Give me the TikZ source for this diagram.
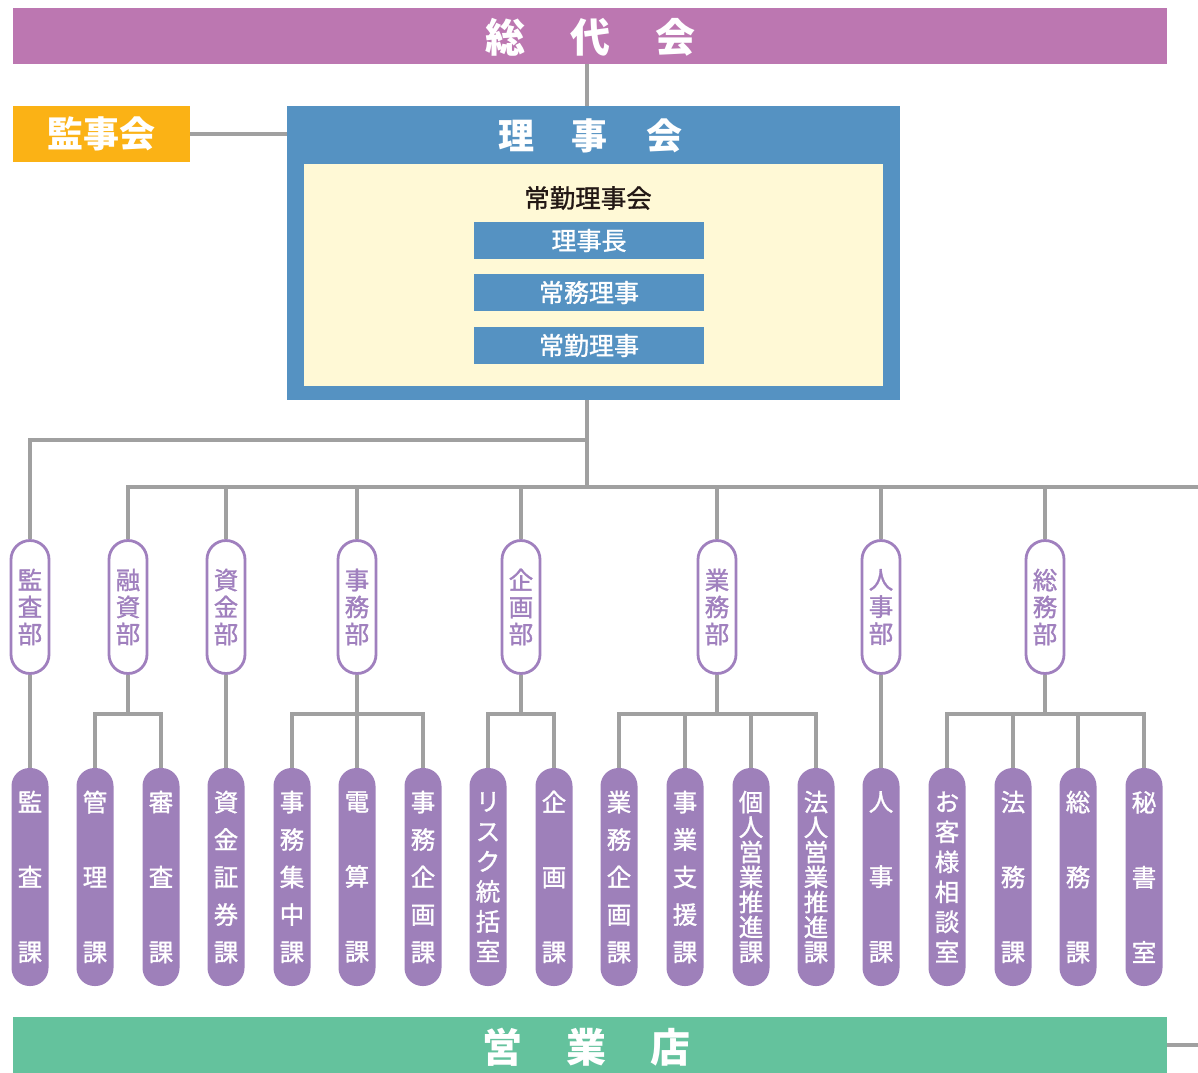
\documentclass[tikz,border=0pt]{standalone}
\usepackage{fontspec}
\setmainfont{Noto Sans CJK JP}
\newfontfamily\jpmed[FakeBold=1.2]{Noto Sans CJK JP}
\definecolor{sodaic}{HTML}{BC77B1}
\definecolor{kanjic}{HTML}{FBB215}
\definecolor{rijic}{HTML}{5592C2}
\definecolor{creamc}{HTML}{FFF9D6}
\definecolor{deptc}{HTML}{A080BE}
\definecolor{sectc}{HTML}{9E80BA}
\definecolor{lineg}{HTML}{A0A0A0}
\definecolor{shopc}{HTML}{64C29D}
\definecolor{darkc}{HTML}{231815}
\begin{document}
\begin{tikzpicture}[x=1pt,y=-1pt,
  conn/.style={draw=lineg, line width=3.5pt},
  bigbar/.style={fill=#1, draw=none, text=white, inner sep=0pt, font=\bfseries},
  bluebox/.style={fill=rijic, draw=none, text=white, minimum width=230pt, minimum height=37pt, inner sep=0pt, font=\jpmed\fontsize{25}{25}\selectfont},
  dept/.style={draw=deptc, line width=2.8pt, fill=white, text=deptc, minimum width=38pt, minimum height=133pt, rounded corners=19pt, inner sep=0pt, align=center, font=\jpmed\fontsize{24.5}{27}\selectfont},
  sect/.style={fill=sectc, draw=none, text=white, minimum width=37pt, minimum height=218pt, rounded corners=18pt, inner sep=0pt, align=center, font=\jpmed\fontsize{24.5}{#1}\selectfont}
]
\useasboundingbox (0,0) rectangle (1198,1072);

% top bar
\node[bigbar=sodaic, minimum width=1154pt, minimum height=56pt] (sodai) at (590,36) {};
\node[text=white, inner sep=0pt, font=\fontsize{40}{40}\selectfont\bfseries] (sodait) at (590,37) {総\hspace{45pt}代\hspace{45pt}会};

% kanjikai
\node[bigbar=kanjic, minimum width=177pt, minimum height=56pt, font=\fontsize{36}{36}\selectfont\bfseries] (kanji) at (101.5,134) {監事会};

% rijikai
\node[fill=rijic, minimum width=613pt, minimum height=294pt, inner sep=0pt] (riji) at (593.5,253) {};
\node[text=white, inner sep=0pt, font=\fontsize{36}{36}\selectfont\bfseries] (rijit) at (590,136) {理\hspace{38pt}事\hspace{38pt}会};
\node[fill=creamc, minimum width=579pt, minimum height=222pt, inner sep=0pt] (cream) at (593.5,275) {};
\node[text=darkc, inner sep=0pt, font=\jpmed\fontsize{25.5}{25.5}\selectfont] (jokin) at (588,198) {常勤理事会};
\node[bluebox] (b1) at (589,240.5) {理事長};
\node[bluebox] (b2) at (589,292.5) {常務理事};
\node[bluebox] (b3) at (589,345.5) {常勤理事};

% coordinates
\coordinate (j1) at (587,440);
\coordinate (j2) at (587,487);
\coordinate (rend) at (1198,487);
\coordinate (hy) at (0,714);

% departments
\node[dept] (d1) at (30,607) {監\\査\\部};
\node[dept] (d2) at (128,607) {融\\資\\部};
\node[dept] (d3) at (226,607) {資\\金\\部};
\node[dept] (d4) at (357,607) {事\\務\\部};
\node[dept] (d5) at (521,607) {企\\画\\部};
\node[dept] (d6) at (717,607) {業\\務\\部};
\node[dept] (d7) at (881,607) {人\\事\\部};
\node[dept] (d8) at (1045,607) {総\\務\\部};

% sections
\node[sect=75] (s1) at (30,877) {監\\査\\課};
\node[sect=75] (s2) at (95,877) {管\\理\\課};
\node[sect=75] (s3) at (161,877) {審\\査\\課};
\node[sect=37.5] (s4) at (226,877) {資\\金\\証\\券\\課};
\node[sect=37.5] (s5) at (292,877) {事\\務\\集\\中\\課};
\node[sect=75] (s6) at (357,877) {電\\算\\課};
\node[sect=37.5] (s7) at (423,877) {事\\務\\企\\画\\課};
\node[sect=30] (s8) at (488,877) {リ\\ス\\ク\\統\\括\\室};
\node[sect=75] (s9) at (554,877) {企\\画\\課};
\node[sect=37.5] (s10) at (619,877) {業\\務\\企\\画\\課};
\node[sect=37.5] (s11) at (685,877) {事\\業\\支\\援\\課};
\node[sect=25] (s12) at (751,877) {個\\人\\営\\業\\推\\進\\課};
\node[sect=25] (s13) at (816,877) {法\\人\\営\\業\\推\\進\\課};
\node[sect=75] (s14) at (881,877) {人\\事\\課};
\node[sect=30] (s15) at (947,877) {お\\客\\様\\相\\談\\室};
\node[sect=75] (s16) at (1013,877) {法\\務\\課};
\node[sect=75] (s17) at (1078,877) {総\\務\\課};
\node[sect=75] (s18) at (1144,877) {秘\\書\\室};

% bottom bar
\node[bigbar=shopc, minimum width=1154pt, minimum height=56pt] (shop) at (590,1045) {};
\node[text=white, inner sep=0pt, font=\fontsize{40}{40}\selectfont\bfseries] (shopt) at (586,1047) {営\hspace{44pt}業\hspace{44pt}店};
\coordinate (eend) at (1198,1045);

% connectors top
\draw[conn] (sodai.south -| j1) -- (riji.north -| j1);
\draw[conn] (kanji.east) -- (riji.west |- kanji.east);
\draw[conn] (riji.south -| j1) -- (j2);
\draw[conn] (j1) -| (d1.north);
\draw[conn] (d2.north) |- (rend);
\foreach \d in {d3,d4,d5,d6,d7,d8} \draw[conn] (\d.north) -- (\d.north |- rend);

% connectors below departments
\draw[conn] (d1.south) -- (s1.north);
\draw[conn] (d3.south) -- (s4.north);
\draw[conn] (d7.south) -- (s14.north);
\draw[conn] (d2.south) -- (d2.south |- hy);
\draw[conn] (s2.north) -- (s2.north |- hy) -- (s3.north |- hy) -- (s3.north);
\draw[conn] (d4.south) -- (s6.north);
\draw[conn] (s5.north) -- (s5.north |- hy) -- (s7.north |- hy) -- (s7.north);
\draw[conn] (d5.south) -- (d5.south |- hy);
\draw[conn] (s8.north) -- (s8.north |- hy) -- (s9.north |- hy) -- (s9.north);
\draw[conn] (d6.south) -- (d6.south |- hy);
\draw[conn] (s10.north) -- (s10.north |- hy) -- (s13.north |- hy) -- (s13.north);
\draw[conn] (s11.north) -- (s11.north |- hy);
\draw[conn] (s12.north) -- (s12.north |- hy);
\draw[conn] (d8.south) -- (d8.south |- hy);
\draw[conn] (s15.north) -- (s15.north |- hy) -- (s18.north |- hy) -- (s18.north);
\draw[conn] (s16.north) -- (s16.north |- hy);
\draw[conn] (s17.north) -- (s17.north |- hy);

% connector right of shops
\draw[conn] (shop.east) -- (eend);
\end{tikzpicture}
\end{document}
